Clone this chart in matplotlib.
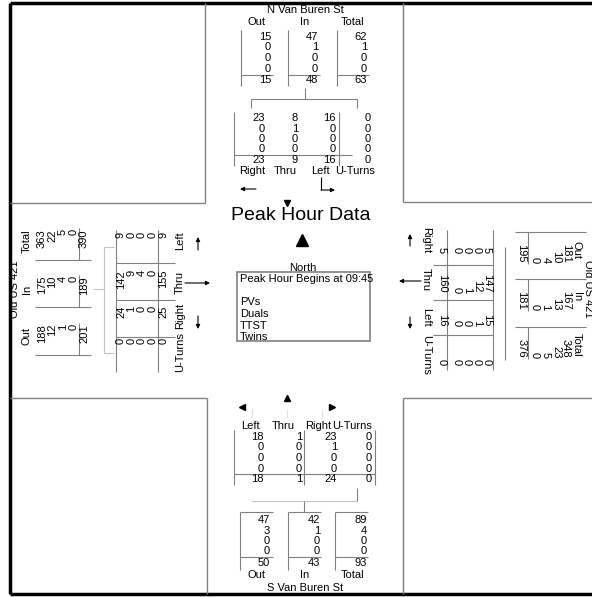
import matplotlib.pyplot as plt
from matplotlib.patches import Rectangle

plt.rcParams['font.family'] = ['Liberation Sans', 'DejaVu Sans']

# turning movement counts, rows = PVs, Duals, TTST, Twins, total
north_out = [15, 0, 0, 0, 15]
north_in = [47, 1, 0, 0, 48]
north_total = [62, 1, 0, 0, 63]
north_right = [23, 0, 0, 0, 23]
north_thru = [8, 1, 0, 0, 9]
north_left = [16, 0, 0, 0, 16]
north_uturn = [0, 0, 0, 0, 0]

south_left = [18, 0, 0, 0, 18]
south_thru = [1, 0, 0, 0, 1]
south_right = [23, 1, 0, 0, 24]
south_uturn = [0, 0, 0, 0, 0]
south_out = [47, 3, 0, 0, 50]
south_in = [42, 1, 0, 0, 43]
south_total = [89, 4, 0, 0, 93]

west_out = [188, 12, 1, 0, 201]
west_in = [175, 10, 4, 0, 189]
west_total = [363, 22, 5, 0, 390]
west_uturn = [0, 0, 0, 0, 0]
west_right = [24, 1, 0, 0, 25]
west_thru = [142, 9, 4, 0, 155]
west_left = [9, 0, 0, 0, 9]

east_out = [181, 10, 4, 0, 195]
east_in = [167, 13, 1, 0, 181]
east_total = [348, 23, 5, 0, 376]
east_right = [5, 0, 0, 0, 5]
east_thru = [147, 12, 1, 0, 160]
east_left = [15, 1, 0, 0, 16]
east_uturn = [0, 0, 0, 0, 0]

leg_labels = ['Out', 'In', 'Total']
vehicle_types = ['PVs', 'Duals', 'TTST', 'Twins']
peak_start = '09:45'

FS = 8
GRAY = '#808080'
LIGHT = '#c4c4c4'

fig = plt.figure(figsize=(5.92, 5.97), dpi=100)
ax = fig.add_axes([0, 0, 1, 1])
ax.set_xlim(0, 592)
ax.set_ylim(597, 0)
ax.axis('off')


def line(x0, y0, x1, y1, c=GRAY, lw=0.8):
    ax.plot([x0, x1], [y0, y1], color=c, lw=lw, solid_capstyle='butt')


def txt(x, y, s, rot=0, ha='center', size=FS):
    ax.text(x, y, s, rotation=rot, rotation_mode='anchor', ha=ha, va='center',
            fontsize=size)


def column(vals, along, fixed, side):
    # numbers right aligned in reading direction
    for v, p in zip(vals, along):
        if side == 'n':
            txt(fixed, p, str(v), ha='right')
        elif side == 'w':
            txt(p, fixed, str(v), rot=90, ha='right')
        else:
            txt(p, fixed, str(v), rot=-90, ha='right')


def arrow(x0, y0, x1, y1):
    ax.annotate('', xy=(x1, y1), xytext=(x0, y0),
                arrowprops=dict(arrowstyle='-|>', color='k', lw=0.8,
                                mutation_scale=6, shrinkA=0, shrinkB=0))


# frame and quadrant corners
line(10, 3, 592, 3, 'k', 2.5)
line(10, 3, 10, 594, 'k', 2.5)
line(10, 594, 592, 594, 'k', 2.5)
line(10, 203, 205, 203, GRAY, 1)
line(205, 3, 205, 203, GRAY, 1)
line(403, 3, 403, 202, GRAY, 1)
line(403, 202, 592, 202, GRAY, 1)
line(10, 398, 207, 398, GRAY, 1)
line(207, 398, 207, 594, GRAY, 1)
line(403, 398, 403, 594, GRAY, 1)
line(403, 398, 592, 398, GRAY, 1)

# ---------------- north ----------------
txt(305, 10, 'N Van Buren St')
rows = [37, 47.5, 58, 68.5, 80]
for lab, xc, xr, xl, vals in zip(leg_labels, [257, 305, 353], [271, 318, 367],
                                 [241, 288, 337], [north_out, north_in, north_total]):
    txt(xc, 22, lab)
    column(vals, rows, xr, 'n')
    line(xl, 30, xl, 86)
    line(xl, 75, xl + 32, 75)
line(305, 88, 305, 99)
line(251, 99, 357, 99)
line(251, 99, 251, 108)
line(357, 99, 357, 108)

rows = [118, 128.5, 139, 149.5, 160]
for lab, xc, xr, vals in zip(['Right', 'Thru', 'Left', 'U-Turns'], [252, 285, 320, 355],
                             [265, 298, 336, 371],
                             [north_right, north_thru, north_left, north_uturn]):
    txt(xc, 171, lab)
    column(vals, rows, xr, 'n')
line(234, 112, 234, 166)
line(339, 112, 339, 166)
line(234, 154.5, 352, 154.5)
arrow(256, 189, 240, 189)
line(321, 177, 321, 190, 'k')
arrow(321, 190, 335, 190)
ax.plot(287, 203, marker='v', ms=4, color='k')

txt(301, 215, 'Peak Hour Data', size=14)
ax.plot(302, 240, marker='^', ms=8, color='k')

# ---------------- centre box ----------------
ax.add_patch(Rectangle((237, 272), 133, 69, fill=False, ec=GRAY, lw=1.2))
txt(303, 268, 'North')
txt(240, 279, 'Peak Hour Begins at ' + peak_start, ha='left')
for i, vt in enumerate(vehicle_types):
    txt(240, 302 + i * 11.8, vt, ha='left')

# ---------------- south ----------------
ax.plot(242, 407, marker='<', ms=4, color='k')
ax.plot(287, 398, marker='^', ms=4, color='k')
ax.plot(332, 407, marker='>', ms=4, color='k')
for xs in [252, 287, 322]:
    line(xs, 409, xs, 418, '#e4e4e4')
rows = [437, 447.5, 458, 468.5, 479]
for lab, xc, xr, vals in zip(['Left', 'Thru', 'Right', 'U-Turns'], [250, 283, 318, 352],
                             [264, 302, 337, 372],
                             [south_left, south_thru, south_right, south_uturn]):
    txt(xc, 426, lab)
    column(vals, rows, xr, 'n')
line(234, 430, 234, 485)
line(304, 430, 304, 485)
line(375, 430, 375, 485)
line(234, 474, 375, 474)
line(357, 488, 357, 501)
line(251, 501, 357, 501, LIGHT)
line(304, 501, 304, 512)

rows = [520, 530.5, 541, 551.5, 562.5]
for lab, xc, xr, xl, vals in zip(leg_labels, [257, 305, 353], [270, 320, 367],
                                 [240, 288, 335], [south_out, south_in, south_total]):
    txt(xc, 575, lab)
    column(vals, rows, xr, 'n')
    line(xl, 512, xl, 570)
    line(xl, 512, xl + 33, 512)
    line(xl, 557, xl + 33, 557)
txt(305, 588, 'S Van Buren St')

# ---------------- west ----------------
txt(15, 289, 'Old US 421', rot=90)
rows = [42, 52.5, 63, 73.5, 84]
for lab, yc, yt, vals in zip(leg_labels, [336, 289, 241], [324, 276, 229],
                             [west_out, west_in, west_total]):
    txt(27, yc, lab, rot=90)
    column(vals, rows, yt, 'w')
    line(35, yt + 31, 91, yt + 31)
    line(79, yt + 31, 79, yt - 1)
line(93, 289, 104, 289, LIGHT)
line(104, 247, 104, 353, LIGHT)
line(104, 247, 114, 247, LIGHT)
line(104, 353, 114, 353, LIGHT)

rows = [121, 131.5, 142, 152.5, 163.5]
for lab, yc, yt, vals in zip(['U-Turns', 'Right', 'Thru', 'Left'], [352, 316, 283, 241],
                             [338, 306, 270, 232],
                             [west_uturn, west_right, west_thru, west_left]):
    txt(180, yc, lab, rot=90)
    column(vals, rows, yt, 'w')
line(116, 230, 116, 372)
for yh in [263, 300, 337]:
    line(116, yh, 175, yh)
line(158, 230, 158, 372)
arrow(198, 250, 198, 237)
arrow(185, 283, 210, 283)
arrow(198, 316, 198, 329)

# ---------------- east ----------------
txt(588, 289, 'Old US 421', rot=-90)
rows = [566, 556, 545.5, 535, 521.5]
for lab, yc, yb, vals in zip(leg_labels, [250, 297, 345], [263, 310, 358],
                             [east_out, east_in, east_total]):
    txt(577, yc, lab, rot=-90)
    column(vals, rows, yb, 'e')
    line(515, yb - 31, 586, yb - 31)
    line(528, yb - 31, 528, yb + 1)
line(505, 247, 505, 360)

rows = [487, 477, 467, 457, 442]
for lab, yc, yb, vals in zip(['Right', 'Thru', 'Left', 'U-Turns'], [240, 280, 317, 355],
                             [253, 293, 326, 365],
                             [east_right, east_thru, east_left, east_uturn]):
    txt(426, yc, lab, rot=-90)
    column(vals, rows, yb, 'e')
line(493, 230, 493, 370)
for yh in [265, 300, 335]:
    line(433, yh, 493, yh)
line(447, 230, 447, 370)
arrow(410, 246, 410, 234)
arrow(421, 281, 399, 281)
arrow(410, 317, 410, 329)

fig.savefig('out.png', dpi=100)
